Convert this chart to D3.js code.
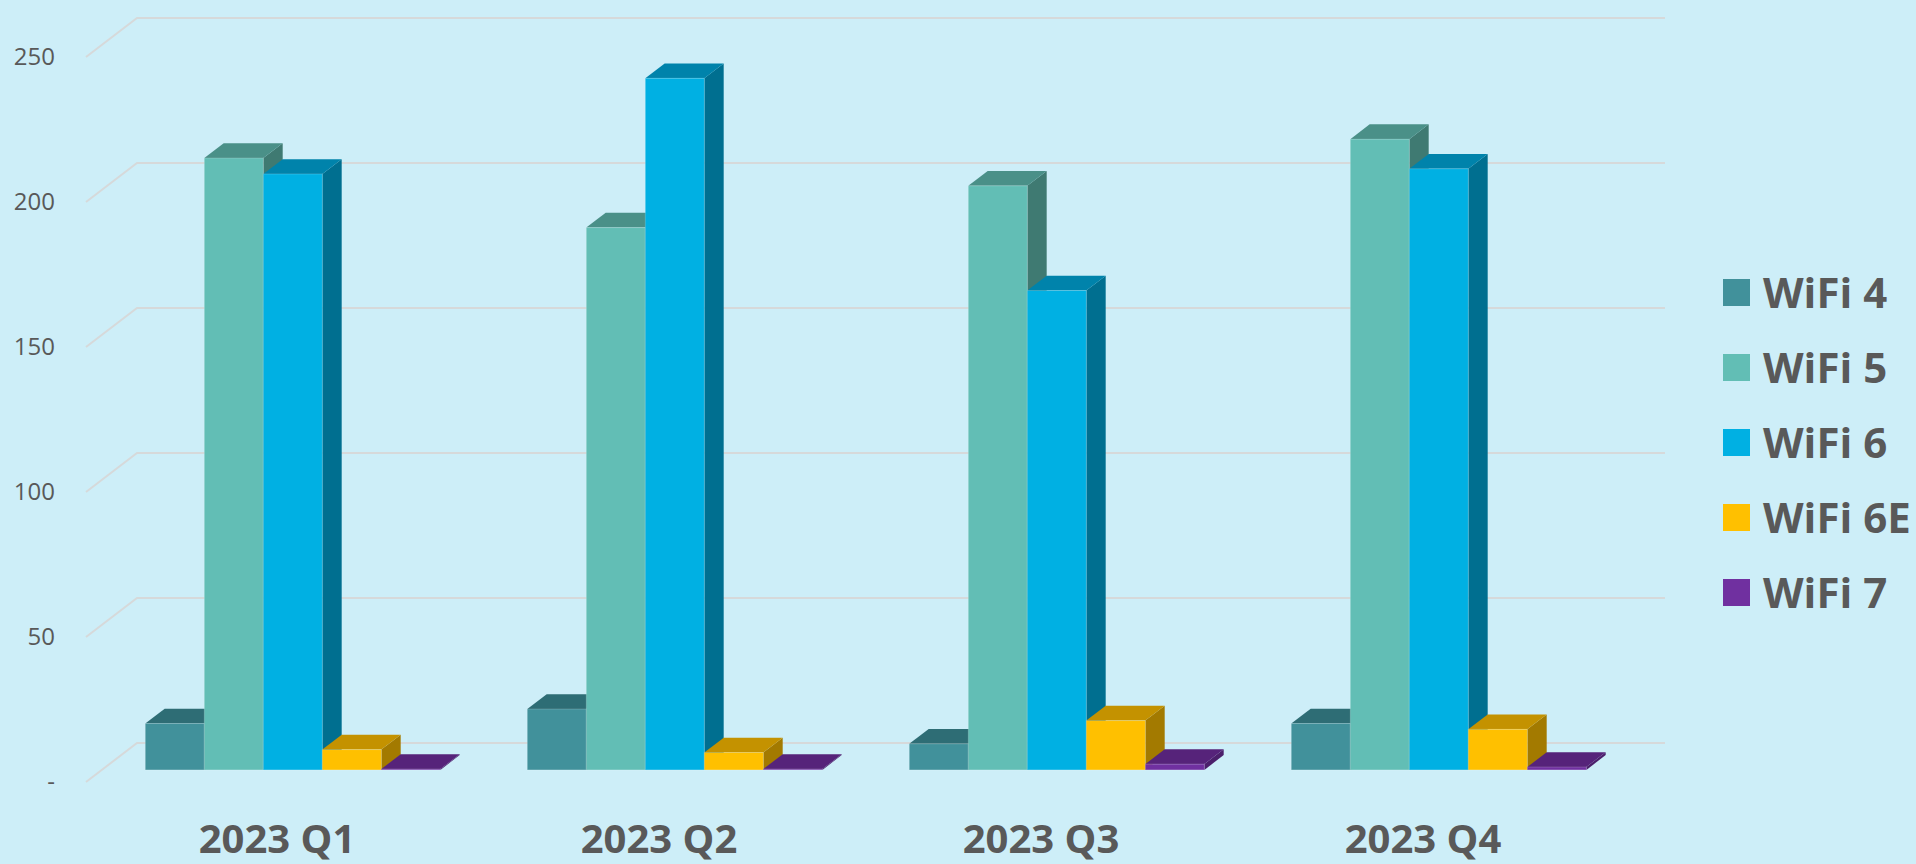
<!DOCTYPE html>
<html>
<head>
<meta charset="utf-8">
<script src="https://cdn.jsdelivr.net/npm/d3@7"></script>
<style>
  html, body { margin: 0; padding: 0; background: #cdeef8; }
  svg { display: block; }
</style>
</head>
<body>
<div id="chart"></div>
<script>
// data
var quarters = ["2023 Q1", "2023 Q2", "2023 Q3", "2023 Q4"];
var seriesNames = ["WiFi 4", "WiFi 5", "WiFi 6", "WiFi 6E", "WiFi 7"];
var wifi4 = [16, 21, 9, 16];
var wifi5 = [211, 187, 201.4, 217.5];
var wifi6 = [205.5, 238.5, 165.3, 207.3];
var wifi6e = [7, 6, 17, 14];
var wifi7 = [0.3, 0.3, 2, 1];
var yTicks = [0, 50, 100, 150, 200, 250];
var tickLabels = ["-", "50", "100", "150", "200", "250"];

var allSeries = [wifi4, wifi5, wifi6, wifi6e, wifi7];

// front / top / side shades per series
var colors = [
  { front: "#41919b", top: "#2e6d75", side: "#2a6069" },
  { front: "#62beb5", top: "#4a9088", side: "#3f7a72" },
  { front: "#00b0e3", top: "#0083ab", side: "#006f90" },
  { front: "#ffc000", top: "#c49200", side: "#a37a00" },
  { front: "#7030a0", top: "#56237a", side: "#4b1f6b" }
];

var svgWidth = 1916;
var svgHeight = 864;

// floor: front edge and depth vector (oblique 3D)
var floorLeft = 86, floorRight = 1614, floorY = 782;
var depthX = 51, depthY = 39;
var barFront = 0.31, barBack = 0.69;

var svg = d3.select("#chart").append("svg")
  .attr("width", svgWidth)
  .attr("height", svgHeight);

svg.append("rect")
  .attr("width", svgWidth)
  .attr("height", svgHeight)
  .attr("fill", "#cdeef8");

var yScale = d3.scaleLinear()
  .domain([0, 250])
  .range([0, 725]);

var xScale = d3.scaleBand()
  .domain(quarters)
  .range([floorLeft, floorRight])
  .padding(0);

var xInner = d3.scaleBand()
  .domain(seriesNames)
  .range([0, xScale.bandwidth()])
  .paddingInner(0)
  .paddingOuter(0.737);

// gridlines: left wall diagonal + back wall line
var grid = svg.append("g");
yTicks.forEach(function(t) {
  var h = yScale(t);
  grid.append("path")
    .attr("d", "M" + floorLeft + "," + (floorY - h) +
      "L" + (floorLeft + depthX) + "," + (floorY - depthY - h) +
      "L" + (floorRight + depthX) + "," + (floorY - depthY - h))
    .attr("fill", "none")
    .attr("stroke", "#d6d9da")
    .attr("stroke-width", 2);
});

svg.append("g").selectAll("text")
  .data(yTicks)
  .enter()
  .append("text")
  .attr("x", 55)
  .attr("y", d => floorY - yScale(d))
  .attr("dy", "0.35em")
  .attr("text-anchor", "end")
  .attr("font-family", "Open Sans, sans-serif")
  .attr("font-size", 24)
  .attr("fill", "#595959")
  .text((d, i) => tickLabels[i]);

// bars
var fx = barFront * depthX, fy = barFront * depthY;
var bdx = (barBack - barFront) * depthX, bdy = (barBack - barFront) * depthY;

var bars = svg.append("g");
quarters.forEach(function(q, qi) {
  seriesNames.forEach(function(s, si) {
    var v = allSeries[si][qi];
    var x = xScale(q) + xInner(s) + fx;
    var w = xInner.bandwidth();
    var base = floorY - fy;
    var top = base - yScale(v);
    var c = colors[si];
    var g = bars.append("g");
    // right side
    g.append("path")
      .attr("d", "M" + (x + w) + "," + base + "L" + (x + w + bdx) + "," + (base - bdy) +
        "L" + (x + w + bdx) + "," + (top - bdy) + "L" + (x + w) + "," + top + "Z")
      .attr("fill", c.side);
    // top
    g.append("path")
      .attr("d", "M" + x + "," + top + "L" + (x + bdx) + "," + (top - bdy) +
        "L" + (x + w + bdx) + "," + (top - bdy) + "L" + (x + w) + "," + top + "Z")
      .attr("fill", c.top);
    // front
    g.append("rect")
      .attr("x", x)
      .attr("y", top)
      .attr("width", w)
      .attr("height", base - top)
      .attr("fill", c.front)
      .attr("stroke", "rgba(255,255,255,0.18)")
      .attr("stroke-width", 1);
  });
});

// category labels
svg.append("g").selectAll("text")
  .data(quarters)
  .enter()
  .append("text")
  .attr("x", d => xScale(d) + xScale.bandwidth() / 2)
  .attr("y", 839)
  .attr("dy", "0.35em")
  .attr("text-anchor", "middle")
  .attr("font-family", "Open Sans, sans-serif")
  .attr("font-weight", "bold")
  .attr("font-size", 40)
  .attr("fill", "#595959")
  .text(d => d);

// legend
var legend = svg.append("g").selectAll("g")
  .data(seriesNames)
  .enter()
  .append("g")
  .attr("transform", (d, i) => "translate(1723," + (292.5 + i * 75) + ")");

legend.append("rect")
  .attr("x", 0)
  .attr("y", -13.5)
  .attr("width", 27)
  .attr("height", 27)
  .attr("fill", (d, i) => colors[i].front);

legend.append("text")
  .attr("x", 40)
  .attr("y", 0)
  .attr("dy", "0.36em")
  .attr("font-family", "Open Sans, sans-serif")
  .attr("font-weight", "bold")
  .attr("font-size", 42)
  .attr("fill", "#595959")
  .text(d => d);
</script>
</body>
</html>
